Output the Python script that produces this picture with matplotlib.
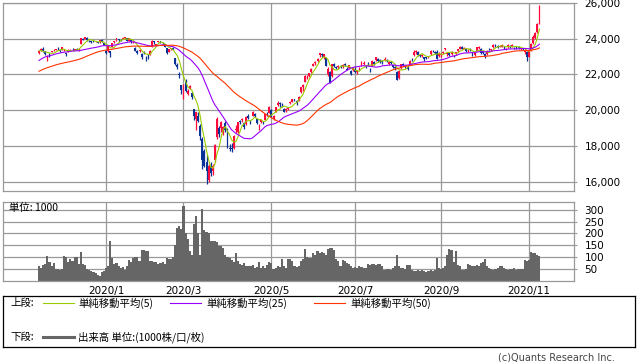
import numpy as np
import pandas as pd
import matplotlib
matplotlib.use('Agg')
import matplotlib.pyplot as plt
from matplotlib.ticker import FuncFormatter

# closes before the first visible bar (only used to start the moving averages)
warmup_close = [20620, 20625, 20649, 21086, 21199, 21318, 21392, 21597, 21759, 21988,
                22001, 21960, 22044, 22079, 22098, 22020, 22048, 21878, 21756,
                21885, 21778, 21341, 21410, 21375, 21587, 21456, 21551, 21798, 22207,
                22472, 22451, 22492, 22548, 22625, 22750, 22799, 22867, 22974, 22843, 22927,
                22850, 23251, 23303, 23330, 23391, 23331, 23520, 23319, 23141]

# daily bars, 2019/11/15 .. 2020/11/10 (one line per month)
opens = [
    23180, 23380, 23430, 23300, 22990, 23140, 23250, 23360, 23370, 23450, 23380,
    23380, 23360, 23180, 23250, 23330, 23440, 23380, 23420, 23380, 23700, 23960, 24000, 24060, 23900, 23850, 23860, 23810, 23790, 23790, 23920, 23760,
    23320, 23320, 23300, 23530, 23800, 23980, 23960, 23950, 24010, 24050, 24020, 23900, 23940, 23790, 23500, 23300, 23300, 23170, 23250,
    23000, 23150, 23140, 23560, 23860, 23650, 23800, 23870, 23720, 23700, 23480, 23250, 23420, 23500, 22900, 22520, 22050, 21380,
    20900, 21640, 20900, 21260, 20960, 20080, 19480, 19700, 19100, 18400, 17700, 17100, 16100, 16900, 16600, 17200, 18500, 19000, 19000, 18800, 19300,
    18950, 17900, 17900, 17900, 18900, 18800, 19400, 19450, 19300, 19200, 19700, 19300, 19700, 19800, 19500, 19100, 19350, 19300, 19450, 19800, 19850,
    20000, 19500, 19900, 20300, 20400, 20300, 20050, 20000, 20050, 20400, 20450, 20600, 20500, 20550, 21000, 21300, 21600, 21850,
    21900, 22150, 22500, 22650, 22750, 23100, 23150, 22950, 22900, 22000, 22150, 21900, 22600, 22400, 22400, 22450, 22500, 22600, 22300, 22350, 22200, 22250,
    22300, 22150, 22300, 22500, 22600, 22500, 22550, 22300, 22500, 22700, 22800, 22850, 22800, 22750, 22800, 22800, 22600, 22700, 22500, 22400, 22150,
    21800, 22350, 22600, 22500, 22350, 22600, 22850, 23100, 23250, 23250, 23100, 23050, 22950, 22950, 22950, 23150, 23300, 23250, 23250, 23050,
    23100, 23200, 23400, 23150, 23200, 23150, 23050, 23150, 23300, 23450, 23550, 23450, 23400, 23350, 23450, 23200, 23100, 23300, 23500, 23450,
    23250, 23150, 23150, 23450, 23350, 23550, 23650, 23600, 23580, 23550, 23550, 23400, 23550, 23600, 23600, 23500, 23550, 23550, 23400, 23450, 23250, 23250,
    23000, 23350, 23750, 24050, 24400, 24850,
]
highs = [
    23350, 23470, 23520, 23330, 23100, 23180, 23320, 23430, 23450, 23510, 23410,
    23560, 23430, 23210, 23400, 23410, 23480, 23440, 23460, 23480, 24040, 24020, 24090, 24090, 23950, 23870, 23880, 23850, 23810, 23930, 23960, 23770,
    23370, 23600, 23300, 23770, 23900, 24050, 24000, 23980, 24120, 24100, 24040, 24050, 23990, 23880, 23510, 23350, 23440, 23220, 23340,
    23030, 23170, 23360, 23910, 23900, 23730, 23880, 23900, 23790, 23720, 23490, 23420, 23490, 23530, 22930, 22650, 22120, 21390,
    21440, 21730, 21180, 21400, 21000, 20080, 19920, 19900, 19200, 18500, 17800, 17500, 17000, 17100, 17000, 18100, 19600, 19100, 19400, 19100, 19400,
    19000, 18100, 18150, 18600, 19150, 19350, 19450, 19550, 19350, 19650, 19800, 19450, 19950, 19850, 19550, 19200, 19450, 19400, 19800, 19900, 20250,
    20050, 19750, 20200, 20530, 20450, 20400, 20100, 20100, 20200, 20500, 20650, 20650, 20550, 20780, 21300, 21450, 21950, 21950,
    22100, 22350, 22650, 22750, 22900, 23200, 23200, 23150, 22950, 22400, 22200, 22600, 22650, 22500, 22550, 22550, 22600, 22650, 22400, 22550, 22250, 22400,
    22400, 22250, 22400, 22750, 22750, 22550, 22700, 22350, 22800, 22750, 23000, 22900, 22850, 22800, 22950, 22850, 22750, 22750, 22550, 22500, 22200,
    22250, 22600, 22650, 22550, 22450, 22800, 22900, 23350, 23350, 23300, 23150, 23150, 22950, 23000, 23050, 23350, 23350, 23300, 23350, 23250,
    23200, 23300, 23500, 23250, 23250, 23300, 23100, 23250, 23450, 23600, 23600, 23550, 23450, 23400, 23500, 23250, 23250, 23550, 23600, 23500,
    23350, 23200, 23350, 23500, 23450, 23700, 23700, 23650, 23650, 23700, 23600, 23500, 23700, 23650, 23700, 23550, 23600, 23600, 23500, 23500, 23400, 23300,
    23350, 23750, 24200, 24350, 24900, 25870,
]
lows = [
    23120, 23340, 23270, 23100, 22730, 22990, 23230, 23320, 23350, 23380, 23280,
    23360, 23300, 23040, 23230, 23290, 23380, 23350, 23350, 23330, 23690, 23930, 23970, 23900, 23830, 23740, 23790, 23790, 23760, 23780, 23830, 23650,
    23140, 23280, 22950, 23520, 23760, 23900, 23840, 23900, 23990, 24000, 23860, 23890, 23780, 23780, 23320, 23120, 23270, 22870, 23140,
    22780, 22890, 23100, 23560, 23710, 23630, 23790, 23770, 23670, 23510, 23170, 23240, 23350, 23370, 22510, 22280, 21800, 20920,
    20650, 21000, 20840, 21200, 20610, 19470, 18890, 19350, 18340, 16700, 16800, 15850, 16000, 16300, 16350, 17100, 18400, 18500, 18800, 18600, 18800,
    17900, 17700, 17650, 17800, 18700, 18700, 19250, 19350, 18950, 19150, 19500, 19200, 19650, 19600, 19250, 18900, 19300, 19200, 19450, 19700, 19850,
    19600, 19450, 19900, 20250, 20200, 20200, 19880, 19900, 20000, 20350, 20450, 20500, 20300, 20500, 20950, 21100, 21550, 21750,
    21850, 22100, 22450, 22550, 22700, 23000, 22950, 22850, 22450, 21900, 21500, 21850, 22400, 22300, 22300, 22350, 22350, 22500, 22250, 22300, 21950, 22200,
    22100, 22050, 22250, 22450, 22550, 22350, 22500, 22150, 22450, 22550, 22750, 22700, 22650, 22600, 22750, 22700, 22550, 22600, 22350, 22250, 21700,
    21750, 22300, 22450, 22350, 22250, 22550, 22750, 23050, 23150, 23050, 22950, 23000, 22750, 22850, 22900, 23100, 23250, 23150, 22850, 23000,
    23000, 23150, 23350, 23050, 23050, 23100, 22950, 23100, 23250, 23400, 23400, 23400, 23250, 23250, 23300, 23050, 23050, 23300, 23450, 23150,
    23150, 22900, 23100, 23350, 23300, 23500, 23550, 23500, 23550, 23550, 23450, 23350, 23500, 23500, 23550, 23450, 23450, 23450, 23350, 23380, 23150, 22780,
    22950, 23300, 23700, 24000, 24300, 24800,
]
closes = [
    23300, 23420, 23290, 23150, 23040, 23110, 23290, 23370, 23440, 23410, 23290,
    23530, 23380, 23140, 23300, 23350, 23430, 23410, 23390, 23420, 24020, 23950, 24070, 23930, 23860, 23820, 23820, 23830, 23780, 23920, 23840, 23660,
    23200, 23580, 23200, 23740, 23850, 24030, 23920, 23930, 24040, 24080, 23860, 24030, 23800, 23830, 23340, 23220, 23380, 22980, 23210,
    22970, 23080, 23320, 23870, 23830, 23690, 23860, 23830, 23690, 23520, 23190, 23400, 23480, 23390, 22610, 22430, 21950, 21140,
    21340, 21080, 21100, 21330, 20750, 19700, 19870, 19420, 18560, 17200, 16900, 16600, 16850, 16500, 16900, 18050, 19500, 18650, 19350, 19050, 18900,
    18050, 17820, 17800, 18560, 18950, 19350, 19350, 19500, 19050, 19640, 19550, 19290, 19900, 19670, 19280, 19140, 19430, 19260, 19780, 19770, 20190,
    19620, 19670, 20180, 20390, 20370, 20270, 19910, 20040, 20130, 20430, 20600, 20550, 20390, 20740, 21270, 21420, 21920, 21880,
    22060, 22330, 22610, 22700, 22860, 23180, 23090, 23120, 22470, 22300, 21530, 22580, 22450, 22350, 22480, 22440, 22550, 22530, 22260, 22510, 22000, 22290,
    22120, 22150, 22310, 22710, 22610, 22440, 22530, 22290, 22780, 22590, 22950, 22770, 22700, 22720, 22880, 22750, 22720, 22660, 22400, 22340, 21710,
    22200, 22570, 22510, 22420, 22330, 22750, 22840, 23250, 23290, 23100, 23050, 23110, 22880, 22920, 22990, 23300, 23290, 23210, 22880, 23140,
    23140, 23250, 23470, 23210, 23090, 23270, 23030, 23240, 23410, 23560, 23450, 23480, 23320, 23360, 23350, 23090, 23200, 23510, 23540, 23180,
    23200, 23030, 23310, 23430, 23420, 23650, 23620, 23560, 23600, 23630, 23510, 23410, 23670, 23570, 23640, 23470, 23520, 23490, 23480, 23420, 23330, 22980,
    23300, 23700, 24100, 24330, 24840, 25700,
]
# volume, unit 1000
volume = [
    63, 55, 68, 72, 103, 78, 60, 74, 50, 48, 46,
    50, 103, 98, 80, 90, 85, 100, 100, 72, 121, 70, 68, 48, 45, 40, 38, 30, 25, 20, 35, 42,
    55, 60, 167, 95, 70, 75, 60, 55, 58, 45, 60, 88, 80, 95, 100, 100, 85, 130, 131,
    125, 124, 84, 84, 80, 78, 70, 75, 80, 72, 95, 90, 92, 100, 150, 225, 230, 220,
    315, 200, 175, 125, 110, 240, 275, 200, 110, 305, 215, 205, 200, 170, 168, 170, 165, 145, 146, 140, 110,
    100, 95, 88, 80, 117, 85, 72, 65, 74, 62, 60, 60, 67, 53, 58, 80, 55, 60, 52, 65, 80,
    75, 50, 55, 62, 58, 91, 60, 55, 92, 91, 81, 60, 58, 62, 81, 90, 134, 100,
    96, 95, 117, 110, 124, 118, 122, 117, 110, 134, 138, 139, 130, 91, 85, 60, 88, 85, 74, 70, 60, 55,
    58, 53, 60, 56, 52, 55, 71, 68, 72, 70, 65, 72, 70, 60, 46, 50, 48, 45, 52, 60, 110,
    60, 55, 53, 50, 67, 65, 46, 42, 40, 45, 39, 44, 40, 38, 42, 45, 40, 43, 96, 53,
    50, 55, 60, 110, 134, 131, 80, 127, 67, 60, 46, 45, 48, 70, 65, 60, 62, 68, 60, 74,
    80, 91, 60, 55, 50, 46, 48, 55, 63, 60, 53, 48, 46, 50, 47, 52, 46, 49, 50, 47, 88, 85,
    88, 120, 117, 115, 110, 105,
]

# trading sessions per month: 2019/11 (from 15th), 2020/1 .. 2020/11
month_sessions = [32, 19, 18, 21, 21, 18, 22, 21, 20, 20, 22, 6]
month_labels = ['2020/%d' % m for m in range(1, 12)]

ma_windows = [5, 25, 50]
ma_colors = ['#99cc00', '#9900ff', '#ff3300']
ma_labels = ['単純移動平均(5)', '単純移動平均(25)', '単純移動平均(50)']

UP = '#ff0a3c'
DOWN = '#0a3296'
GRID = '#999999'
JP = ['Noto Sans CJK JP', 'DejaVu Sans']

o = np.array(opens)
h = np.array(highs)
l = np.array(lows)
c = np.array(closes)
v = np.array(volume)
n = len(c)
x = np.arange(n)

month_pos = np.cumsum(month_sessions)[:-1]

W, H = 638, 362
fig = plt.figure(figsize=(W / 100, H / 100), dpi=100)


def px_axes(x0, y0, x1, y1):
    return fig.add_axes([x0 / W, 1 - y1 / H, (x1 - x0) / W, (y1 - y0) / H])


ax = px_axes(3, 3, 574, 190.5)
axv = px_axes(3, 201.7, 574, 280.5)
leg = px_axes(3, 296, 635, 346.5)

# candles
up = c >= o
colors = np.where(up, UP, DOWN)
ax.vlines(x, l, h, colors=colors, linewidth=0.9, zorder=2)
ax.bar(x, np.maximum(np.abs(c - o), 20), bottom=np.minimum(o, c), width=0.9,
       color=colors, linewidth=0, zorder=2)

# moving averages
all_close = pd.Series(warmup_close + closes, dtype=float)
for win, col in zip(ma_windows, ma_colors):
    ma = all_close.rolling(win).mean().iloc[len(warmup_close):].values
    ax.plot(x, ma, color=col, linewidth=0.8, zorder=3)

xlim = (-17.2, 255.5)
for a in (ax, axv):
    a.set_xlim(*xlim)
    a.set_xticks(month_pos[::2])
    a.set_axisbelow(True)
    a.grid(color=GRID, linewidth=0.9)
    a.yaxis.tick_right()
    a.tick_params(axis='y', length=2.5, width=0.8, color=GRID, pad=5, labelsize=7.5)
    for s in a.spines.values():
        s.set_color(GRID)
        s.set_linewidth(0.9)

ax.set_ylim(15500, 26000)
ax.set_yticks(range(16000, 26001, 2000))
ax.yaxis.set_major_formatter(FuncFormatter(lambda val, pos: '{:,}'.format(int(val))))
ax.tick_params(axis='x', length=0, labelbottom=False)

# volume
axv.bar(x, v, width=1.0, color='#666666', linewidth=0, zorder=2)
axv.set_ylim(0, 335)
axv.set_yticks(range(50, 301, 50))
axv.set_xticklabels(month_labels[::2])
axv.tick_params(axis='x', length=0, pad=4, labelsize=7.5)
fig.text(9 / W, 1 - 208 / H, '単位: 1000', family=JP, fontsize=7.5, va='center')

# legend box
leg.set_xlim(0, 632)
leg.set_ylim(50.5, 0)
leg.set_xticks([])
leg.set_yticks([])
for s in leg.spines.values():
    s.set_color('black')
    s.set_linewidth(0.9)

row1, row2 = 7.3, 41.3
leg.text(7, row1, '上段:', family=JP, fontsize=7.5, va='center')
for x0, col, lab in zip([39.5, 167, 311], ma_colors, ma_labels):
    leg.plot([x0, x0 + 31], [row1, row1], color=col, linewidth=0.8)
    leg.text(x0 + 36, row1, lab, family=JP, fontsize=7.5, va='center')
leg.text(7, row2, '下段:', family=JP, fontsize=7.5, va='center')
leg.plot([39.5, 70.5], [row2, row2], color='#666666', linewidth=2.2)
leg.text(75.5, row2, '出来高 単位:(1000株/口/枚)', family=JP, fontsize=7.5, va='center')

fig.text(615 / W, 1 - 357.5 / H, '(c)Quants Research Inc.', ha='right', va='center',
         fontsize=7, color='#444444')

fig.savefig('out.png', dpi=100)
